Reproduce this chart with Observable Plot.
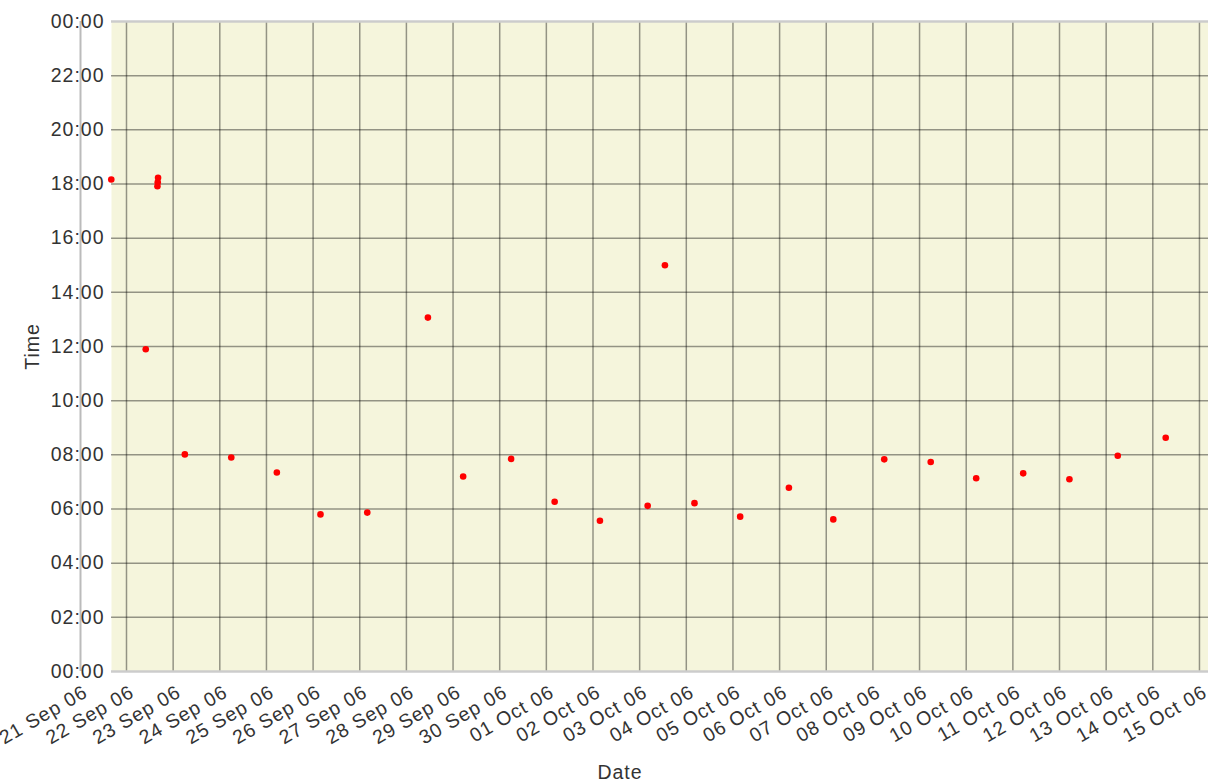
<!DOCTYPE html>
<html><head><meta charset="utf-8">
<script src="https://cdn.jsdelivr.net/npm/d3@7"></script>
<script src="https://cdn.jsdelivr.net/npm/@observablehq/plot@0.6"></script>
<style>html,body{margin:0;padding:0;background:#fff;} svg{display:block} svg text{letter-spacing:1px}</style>
</head><body><div id="chart"></div>
<script>
// Observation dates (local) and times of day
const dates = ["2006-09-21","2006-09-22","2006-09-22","2006-09-22","2006-09-22","2006-09-23","2006-09-24","2006-09-25","2006-09-26","2006-09-27","2006-09-28","2006-09-29","2006-09-30","2006-10-01","2006-10-02","2006-10-03","2006-10-03","2006-10-04","2006-10-05","2006-10-06","2006-10-07","2006-10-08","2006-10-09","2006-10-10","2006-10-11","2006-10-12","2006-10-13","2006-10-14","2006-10-15"];
const times = ["18:10","11:54","18:14","18:04","17:55","08:01","07:54","07:21","05:48","05:52","13:04","07:12","07:51","06:16","05:34","06:07","15:00","06:13","05:43","06:47","05:37","07:50","07:44","07:08","07:19","07:06","07:58","08:38","08:36"];
// Tick labels
const tickDates = ["2006-09-21","2006-09-22","2006-09-23","2006-09-24","2006-09-25","2006-09-26","2006-09-27","2006-09-28","2006-09-29","2006-09-30","2006-10-01","2006-10-02","2006-10-03","2006-10-04","2006-10-05","2006-10-06","2006-10-07","2006-10-08","2006-10-09","2006-10-10","2006-10-11","2006-10-12","2006-10-13","2006-10-14","2006-10-15"];
const timeTicks = [0,2,4,6,8,10,12,14,16,18,20,22,24];
const xDomain = [new Date("2006-09-21T16:17:00Z"), new Date("2006-10-15T04:39:00Z")];

const data = dates.map((d, i) => ({
  when: new Date(`${d}T${times[i]}:00+02:00`),
  hour: +times[i].slice(0, 2) + +times[i].slice(3) / 60
}));
const ticks = tickDates.map(d => new Date(d + "T00:00:00Z"));
const fmtTime = h => String(h % 24).padStart(2, "0") + ":00";
const font = "'Liberation Sans', Arial, sans-serif";
const fs = 19.5;

const chart = Plot.plot({
  width: 1208, height: 782,
  marginTop: 21, marginBottom: 111, marginLeft: 111, marginRight: 0,
  style: {fontFamily: font, fontSize: fs + "px", color: "#333", background: "#fff"},
  x: {type: "utc", domain: xDomain},
  y: {domain: [0, 24]},
  marks: [
    Plot.frame({fill: "#f5f5dc", stroke: null}),
    Plot.gridX(ticks.slice(1), {stroke: "#000", strokeOpacity: 0.4, strokeWidth: 1.5}),
    Plot.gridY(timeTicks.slice(1, -1), {stroke: "#000", strokeOpacity: 0.4, strokeWidth: 1.5}),
    Plot.ruleY([0, 24], {stroke: "#ccc", strokeWidth: 2.5}),
    Plot.ruleX([xDomain[0]], {y1: 0, y2: 24, dx: -31, stroke: "#bbb", strokeWidth: 2}),
    Plot.axisY(timeTicks, {tickSize: 0, tickPadding: 7, tickFormat: fmtTime, label: null, fontSize: fs}),
    Plot.axisX(ticks, {tickSize: 0, tickPadding: 19, tickRotate: -30, dx: 6, tickFormat: d3.utcFormat("%d %b %y"), label: null, fontSize: fs}),
    Plot.text(["Time"], {frameAnchor: "left", textAnchor: "middle", lineAnchor: "middle", rotate: -90, dx: -79, fontSize: fs}),
    Plot.text(["Date"], {frameAnchor: "bottom", textAnchor: "middle", lineAnchor: "middle", dx: -40, dy: 101, fontSize: fs}),
    Plot.dot(data, {x: "when", y: "hour", r: 3.3, fill: "#ff0000"})
  ]
});
document.getElementById("chart").appendChild(chart);
</script>
</body></html>
